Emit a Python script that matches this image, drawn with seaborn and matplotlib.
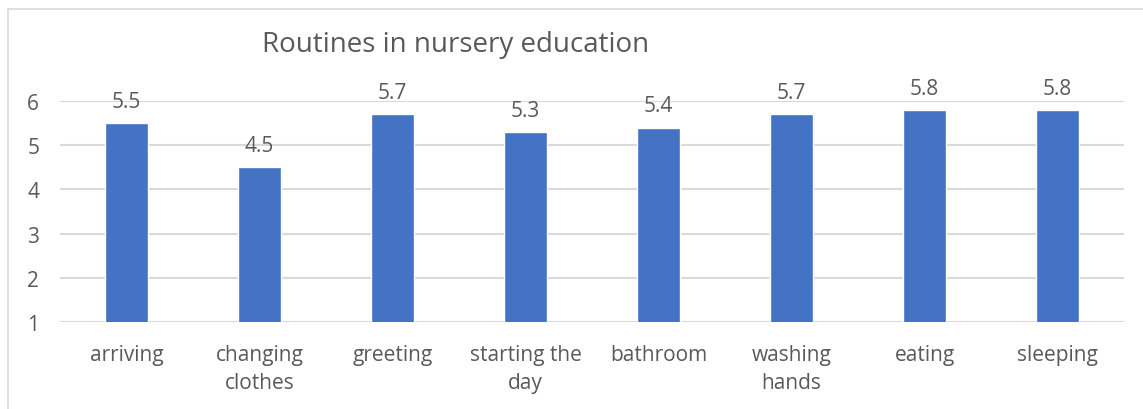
import pandas as pd
import seaborn as sns
import matplotlib.pyplot as plt
from matplotlib.patches import Rectangle

categories = ["arriving", "changing\nclothes", "greeting", "starting the\nday",
              "bathroom", "washing\nhands", "eating", "sleeping"]
scores = [5.5, 4.5, 5.7, 5.3, 5.4, 5.7, 5.8, 5.8]
y_ticks = [1, 2, 3, 4, 5, 6]

data = pd.DataFrame({"routine": categories, "score": scores})

sns.set_style("white")
plt.rcParams["font.family"] = ["Open Sans", "DejaVu Sans"]
text_color = "#595959"

fig = plt.figure(figsize=(11.43, 4.10), dpi=100)
ax = fig.add_axes([0.0525, 0.2122, 0.9309, 0.5388])

sns.barplot(data=data, x="routine", y="score", color="#4472C4", width=0.32,
            saturation=1, ax=ax, zorder=3)

ax.set_ylim(1, 6)
ax.set_yticks(y_ticks)
ax.set_xlim(-0.5, len(categories) - 0.5)
ax.grid(axis="y", color="#d9d9d9", linewidth=1.5, zorder=0)
for s in ax.spines.values():
    s.set_visible(False)
ax.tick_params(axis="both", length=0, labelsize=15, colors=text_color)
ax.tick_params(axis="x", pad=16)
ax.tick_params(axis="y", pad=15)
for lbl in ax.get_xticklabels():
    lbl.set_linespacing(1.4)
ax.set_xlabel("")
ax.set_ylabel("")

for i, v in enumerate(scores):
    ax.annotate(f"{v}", (i, v), xytext=(0, 8), textcoords="offset points",
                ha="center", va="bottom", fontsize=15, color=text_color,
                annotation_clip=False)

fig.text(0.399, 0.89, "Routines in nursery education", ha="center", va="center",
         fontsize=20, color=text_color)

fig.patches.append(Rectangle((0.007, -0.1), 1.1, 1.075, transform=fig.transFigure,
                             fill=False, edgecolor="#d9d9d9", linewidth=1.2))

fig.savefig("out.png", dpi=100)
